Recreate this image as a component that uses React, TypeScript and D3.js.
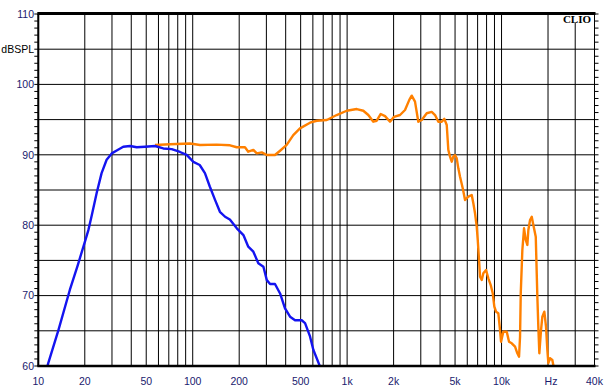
import React from "react";
import * as d3 from "d3";

const blueFreq = [11.3, 11.6, 13.5, 16.0, 18.0, 20.0, 21.1, 22.2, 23.9, 25.7, 27.7, 29.9, 32.2, 35.5, 39.3, 43.4, 49.1, 57, 64.5, 73.1, 82.7, 91.4, 101, 111, 120, 129, 139.5, 150, 162, 174, 193, 213, 229, 247, 266, 287, 302, 317, 341, 368, 396, 427, 460, 508, 534, 575, 604, 668];
const blueDb = [59.5, 60.4, 65.1, 70.8, 74.3, 77.6, 79.3, 81.4, 84.6, 87.4, 89.3, 90.2, 90.6, 91.15, 91.25, 91.07, 91.15, 91.25, 90.9, 90.8, 90.4, 90.0, 89.0, 88.55, 87.4, 85.5, 83.6, 81.9, 81.2, 80.8, 79.56, 78.6, 76.95, 76.24, 74.6, 74.1, 72.2, 71.65, 71.65, 70.3, 68.2, 67.0, 66.5, 66.5, 66.1, 64.2, 62.3, 59.9];

const orangeFreq = [57, 71.3, 96, 111.5, 143, 174.4, 192.8, 218, 229, 247, 260, 280, 302, 341, 368, 406, 448, 495, 575, 636, 738, 856, 994, 1154, 1273, 1372, 1478, 1555, 1651, 1760, 1896, 2012, 2201, 2371, 2528, 2620, 2752, 2891, 3043, 3278, 3531, 3710, 3896, 4100, 4262, 4417, 4523, 4640, 4759, 4873, 4998, 5127, 5251, 5386, 5608, 5803, 6095, 6412, 6567, 6735, 6908, 7013, 7150, 7258, 7445, 7624, 7938, 8214, 8511, 8770, 8982, 9213, 9535, 9779, 9926, 10270, 10807, 11184, 11644, 12232, 12658, 12983, 13179, 13318, 13640, 13990, 14349, 14696, 14917, 15300, 15690, 16070, 16660, 16900, 17060, 17310, 17570, 18020, 18380, 18930, 19410, 19800, 20100, 20610, 21330, 21650, 21800];
const orangeDb = [91.4, 91.5, 91.6, 91.4, 91.45, 91.35, 91.07, 91.07, 90.44, 90.7, 90.2, 90.35, 89.97, 89.97, 90.58, 91.4, 92.8, 93.76, 94.56, 94.84, 94.94, 95.65, 96.26, 96.5, 96.26, 95.65, 94.7, 94.84, 95.8, 95.5, 94.7, 95.4, 95.65, 96.36, 97.8, 98.4, 97.55, 94.7, 94.94, 95.9, 96.1, 95.65, 94.7, 94.7, 95.1, 94.23, 90.7, 89.73, 89.02, 89.73, 89.97, 89.5, 88.08, 86.89, 85.24, 83.58, 84.05, 84.29, 83.11, 81.69, 79.79, 77.9, 75.06, 72.68, 72.22, 73.17, 73.64, 72.46, 71.5, 70.33, 68.42, 67.71, 67.49, 65.11, 63.45, 64.87, 64.87, 63.45, 63.22, 62.74, 61.8, 61.32, 64.16, 70.33, 76.48, 79.56, 77.9, 77.19, 79.32, 80.74, 81.2, 80.03, 78.37, 73.17, 69.84, 65.58, 61.8, 65.11, 67.0, 67.71, 65.58, 62.27, 60.4, 61.1, 60.85, 60.1, 59.0];

const xGridValues = [10, 20, 30, 40, 50, 60, 70, 80, 90, 100, 200, 300, 400, 500, 600, 700, 800, 900, 1000, 2000, 3000, 4000, 5000, 6000, 7000, 8000, 9000, 10000, 20000, 30000, 40000];
const xLabelValues = [10, 20, 50, 100, 200, 500, 1000, 2000, 5000, 10000, 20000, 40000];
const xLabelTexts = ["10", "20", "50", "100", "200", "500", "1k", "2k", "5k", "10k", "Hz", "40k"];
const yGridValues = [60, 65, 70, 75, 80, 85, 90, 95, 100, 105, 110];
const yLabelValues = [60, 70, 80, 90, 100, 110];
const yUnitLabel = "dBSPL";
const yUnitValue = 105;
const brand = "CLIO";

const W = 609, H = 391;
const L = 38.3, R = 594.5, T = 14, B = 366;

export default function App() {
  const x = d3.scaleLog().domain([10, 40000]).range([L, R]);
  const y = d3.scaleLinear().domain([60, 110]).range([B, T]);
  const line = d3.line<[number, number]>().x(d => x(d[0])).y(d => y(d[1]));
  const blue = blueFreq.map((f, i) => [f, blueDb[i]] as [number, number]);
  const orange = orangeFreq.map((f, i) => [f, orangeDb[i]] as [number, number]);
  const minor = d3.range(60, 111, 1);
  const labelColor = "#1a1a6e";
  const font = "Liberation Sans, Arial, sans-serif";
  return (
    <div style={{ position: "fixed", left: 0, top: 0 }}>
      <svg width={W} height={H} style={{ display: "block", background: "#fff" }}>
        <defs>
          <clipPath id="plot">
            <rect x={L} y={T} width={R - L} height={B - T} />
          </clipPath>
        </defs>
        {xGridValues.map(v => (
          <line key={"vx" + v} x1={x(v)} x2={x(v)} y1={T} y2={B} stroke="#000" strokeWidth={1} />
        ))}
        {yGridValues.map(v => (
          <line key={"hy" + v} x1={L} x2={R} y1={y(v)} y2={y(v)} stroke="#000" strokeWidth={1} />
        ))}
        {minor.map(v => (
          <g key={"m" + v}>
            <line x1={L - 4} x2={L} y1={y(v)} y2={y(v)} stroke="#000" strokeWidth={1} />
            <line x1={R} x2={R + 4} y1={y(v)} y2={y(v)} stroke="#000" strokeWidth={1} />
          </g>
        ))}
        <g clipPath="url(#plot)">
          <path d={line(orange) || ""} fill="none" stroke="#ff8000" strokeWidth={2.4} strokeLinejoin="round" />
          <path d={line(blue) || ""} fill="none" stroke="#1414f0" strokeWidth={2.4} strokeLinejoin="round" />
        </g>
        <line x1={L} x2={L} y1={T} y2={B} stroke="#000" strokeWidth={2} />
        <line x1={L - 1} x2={R + 1} y1={B} y2={B} stroke="#000" strokeWidth={2.5} />
        <line x1={L - 1} x2={R + 1} y1={T - 0.5} y2={T - 0.5} stroke="#000" strokeWidth={3} />
        <rect x={564} y={T + 1} width={28} height={8} fill="#fff" />
        <text x={591} y={T + 8.5} textAnchor="end" fontFamily="Liberation Serif, Times New Roman, serif" fontWeight="bold" fontSize={11} fill="#000">{brand}</text>
        {yLabelValues.map(v => (
          <text key={"yl" + v} x={34} y={y(v)} dy="0.36em" textAnchor="end" fontFamily={font} fontSize={10.5} fill={labelColor}>{v}</text>
        ))}
        <text x={34} y={y(yUnitValue)} dy="0.36em" textAnchor="end" fontFamily={font} fontSize={10.5} fill="#000">{yUnitLabel}</text>
        {xLabelValues.map((v, i) => (
          <text key={"xl" + v} x={x(v) + (xLabelTexts[i] === "Hz" ? 3 : 0)} y={381.5} dy="0.36em" textAnchor="middle" fontFamily={font} fontSize={10.5} fill={labelColor}>{xLabelTexts[i]}</text>
        ))}
      </svg>
    </div>
  );
}
